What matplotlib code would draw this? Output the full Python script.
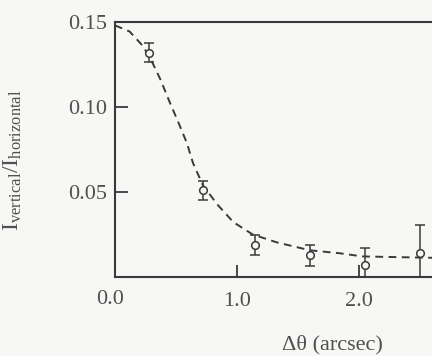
import matplotlib
matplotlib.use("Agg")
import matplotlib.pyplot as plt

# measured points
x_pts = [0.28, 0.72, 1.15, 1.60, 2.05, 2.50]
y_pts = [0.132, 0.051, 0.019, 0.0127, 0.0068, 0.0139]
y_err = [0.0055, 0.0057, 0.006, 0.0062, 0.010, 0.0166]

# dashed model curve
x_curve = [0.0, 0.12, 0.23, 0.30, 0.37, 0.45, 0.52, 0.59, 0.64, 0.72, 0.84, 0.97,
           1.13, 1.33, 1.60, 1.84, 2.03, 2.31, 2.60]
y_curve = [0.148, 0.1444, 0.1358, 0.1271, 0.1166, 0.1026, 0.0909, 0.0787, 0.067,
           0.0541, 0.0426, 0.0323, 0.025, 0.0203, 0.0157, 0.014, 0.0121, 0.0117, 0.0113]

x_ticks = [1.0, 2.0]
x_ticklabels = ["1.0", "2.0"]
y_ticks = [0.05, 0.10, 0.15]
y_ticklabels = ["0.05", "0.10", "0.15"]

plt.rcParams['font.family'] = ['Liberation Serif', 'DejaVu Serif']
plt.rcParams['mathtext.fontset'] = 'custom'
plt.rcParams['mathtext.rm'] = 'Liberation Serif'
plt.rcParams['mathtext.it'] = 'Liberation Serif'

ink = '#3a3a3a'
txt = '#505050'
bg = '#f7f7f5'
fig = plt.figure(figsize=(4.32, 3.56), dpi=100, facecolor=bg)
ax = fig.add_axes([115/432, 1 - 277/356, 1 - 115/432, 255/356])
ax.set_facecolor(bg)

ax.plot(x_curve, y_curve, linestyle=(0, (4, 2.8)), color=ink, linewidth=1.4)
ax.errorbar(x_pts, y_pts, yerr=y_err, fmt='o', mfc=bg, mec=ink, ms=5.5, mew=1.1,
            ecolor=ink, elinewidth=1.1, capsize=3.5, capthick=1.1, zorder=5)

ax.set_xlim(0, 2.6)
ax.set_ylim(0, 0.15)
ax.set_xticks(x_ticks)
ax.set_xticklabels(x_ticklabels)
ax.set_yticks(y_ticks)
ax.set_yticklabels(y_ticklabels)
ax.tick_params(direction='in', length=9, width=1.3, color=ink, labelcolor=txt,
               labelsize=16)
ax.tick_params(axis='x', pad=11)
ax.tick_params(axis='y', pad=6)
ax.yaxis.get_major_ticks()[-1].tick1line.set_visible(False)

for s in ['left', 'bottom', 'top']:
    ax.spines[s].set_color(ink)
    ax.spines[s].set_linewidth(1.5)
ax.spines['right'].set_visible(False)

fig.text(110/432, 1 - 299/356, "0.0", ha='center', va='center', fontsize=16, color=txt)
fig.text(332/432, 1 - 345/356, "Δθ (arcsec)", ha='center', va='center',
         fontsize=16, color=txt)
fig.text(13/432, 1 - 160/356, r"$\mathregular{I_{vertical}/I_{horizontal}}$",
         ha='center', va='center', rotation=90, fontsize=17, color=txt)

fig.savefig("out.png", dpi=100, facecolor=bg)
